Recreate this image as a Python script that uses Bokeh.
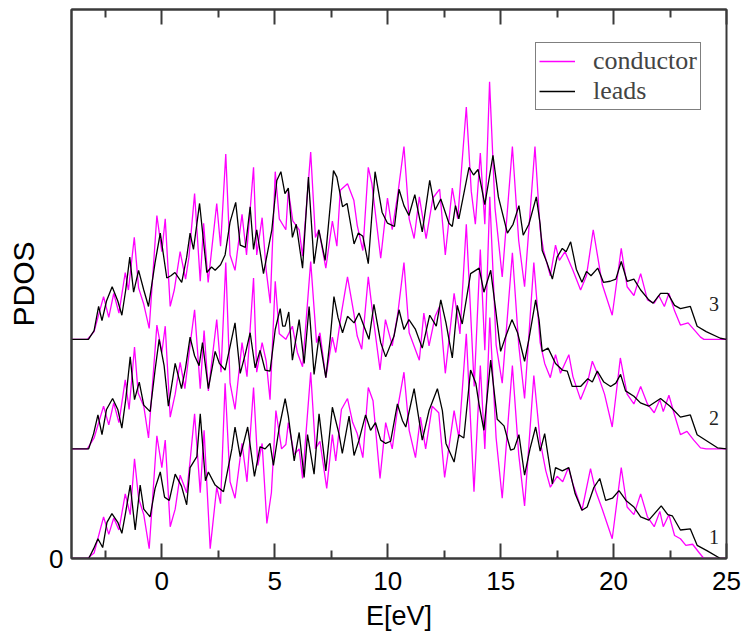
from bokeh.plotting import figure
from bokeh.models import Range1d, FixedTicker, Legend, LegendItem, Label, LinearAxis, CustomJSTickFormatter
from bokeh.embed import file_html
from bokeh.resources import INLINE

# ---------------- data (PDOS values) ----------------
# curve 1 (bottom)
cond1_x = [-4, -3.3, -3.0, -2.58, -2.35, -2.13, -1.9, -1.62, -1.4, -1.21, -1.03, -0.8, -0.56, -0.22, 0.0, 0.15, 0.37, 0.59, 0.81, 1.1, 1.25, 1.45, 1.7, 1.87, 2.14, 2.43, 2.6, 2.8, 3.02, 3.24, 3.55, 3.77, 4.06, 4.25, 4.44, 4.65, 4.85, 5.05, 5.3, 5.49, 5.6, 5.86, 6.08, 6.23, 6.59, 6.8, 7.0, 7.3, 7.55, 7.7, 7.95, 8.22, 8.45, 8.65, 8.9, 9.14, 9.35, 9.66, 9.91, 10.2, 10.43, 10.72, 10.95, 11.23, 11.45, 11.68, 11.97, 12.26, 12.52, 12.94, 13.15, 13.48, 13.82, 14.1, 14.3, 14.52, 14.8, 15.07, 15.52, 15.8, 16.06, 16.47, 16.75, 17.0, 17.2, 17.5, 17.75, 18.0, 18.2, 18.6, 18.98, 19.2, 19.5, 19.94, 20.34, 20.6, 20.9, 21.2, 21.5, 21.8, 22.05, 22.2, 22.45, 22.7, 22.96, 23.2, 23.5, 23.8, 24.0, 25.0]
cond1_y = [0, 0, 0.05, 0.38, 0.22, 0.37, 0.26, 0.59, 0.40, 0.91, 0.55, 0.40, 0.09, 1.12, 0.83, 1.08, 0.29, 0.45, 0.76, 0.60, 0.89, 1.32, 0.60, 1.17, 0.09, 0.65, 0.50, 1.60, 0.70, 0.55, 1.05, 0.70, 1.56, 0.85, 1.05, 0.32, 0.60, 1.35, 1.00, 1.04, 1.24, 0.95, 1.00, 0.73, 1.70, 1.00, 1.07, 0.64, 1.13, 0.89, 1.36, 1.46, 1.24, 1.14, 0.92, 1.56, 1.44, 0.73, 1.24, 1.00, 1.36, 1.70, 1.17, 0.92, 1.29, 1.00, 1.39, 1.33, 0.74, 1.35, 1.10, 2.05, 0.61, 1.76, 1.00, 2.20, 1.10, 0.55, 1.76, 0.95, 0.48, 1.67, 1.07, 0.80, 0.65, 0.75, 0.70, 0.83, 0.68, 0.44, 0.82, 0.62, 0.45, 0.18, 0.83, 0.47, 0.40, 0.59, 0.38, 0.29, 0.43, 0.29, 0.40, 0.21, 0.18, 0.12, 0.13, 0.05, 0.0, 0.0]
lead1_x = [-4, -3.24, -3.02, -2.83, -2.62, -2.43, -2.21, -1.95, -1.77, -1.62, -1.4, -1.18, -0.96, -0.8, -0.52, -0.3, -0.07, 0.12, 0.33, 0.59, 0.87, 1.1, 1.25, 1.55, 1.7, 1.93, 2.06, 2.36, 2.73, 3.1, 3.24, 3.47, 3.8, 4.1, 4.35, 4.57, 4.79, 4.94, 5.2, 5.46, 5.6, 5.86, 6.08, 6.3, 6.45, 6.74, 6.96, 7.26, 7.55, 7.84, 7.99, 8.29, 8.51, 8.73, 9.02, 9.24, 9.46, 9.69, 9.91, 10.13, 10.43, 10.65, 10.8, 11.17, 11.39, 11.53, 11.83, 12.2, 12.42, 12.58, 12.94, 13.15, 13.37, 13.67, 13.9, 14.05, 14.26, 14.56, 14.85, 15.15, 15.44, 15.6, 15.81, 16.06, 16.3, 16.55, 16.75, 16.95, 17.29, 17.43, 17.73, 18.02, 18.3, 18.6, 18.83, 19.13, 19.39, 19.65, 19.95, 20.24, 20.55, 20.9, 21.2, 21.56, 22.11, 22.4, 22.6, 22.96, 23.4, 23.7, 24.15, 24.73, 25.0]
lead1_y = [0, 0, 0.09, 0.18, 0.10, 0.33, 0.41, 0.33, 0.23, 0.40, 0.67, 0.26, 0.67, 0.45, 0.38, 0.64, 0.79, 0.56, 0.53, 0.77, 0.66, 0.49, 0.83, 0.93, 1.32, 0.71, 0.79, 0.67, 0.61, 1.00, 1.20, 0.93, 1.20, 0.75, 1.02, 1.00, 1.05, 0.85, 1.20, 1.46, 1.30, 0.89, 1.15, 0.74, 1.13, 0.77, 1.32, 0.80, 1.38, 1.14, 0.96, 1.30, 0.94, 1.08, 1.31, 1.17, 1.24, 1.08, 1.05, 1.07, 1.41, 1.26, 1.20, 1.55, 1.26, 1.08, 1.35, 1.55, 1.35, 1.05, 0.88, 1.13, 1.10, 1.72, 1.60, 1.40, 1.17, 1.81, 1.27, 1.21, 0.99, 1.00, 1.13, 0.76, 1.00, 1.20, 0.98, 1.14, 0.68, 0.83, 0.80, 0.83, 0.59, 0.44, 0.47, 0.65, 0.73, 0.53, 0.55, 0.62, 0.53, 0.47, 0.38, 0.35, 0.48, 0.40, 0.39, 0.26, 0.27, 0.12, 0.07, 0.0, 0.0]

# curve 2 (middle)
cond2_x = [-4, -3.3, -3.0, -2.58, -2.35, -2.13, -1.9, -1.62, -1.45, -1.21, -1.05, -0.8, -0.59, -0.22, 0.0, 0.15, 0.37, 0.59, 0.81, 1.02, 1.25, 1.45, 1.7, 1.87, 2.06, 2.43, 2.62, 2.83, 3.02, 3.24, 3.55, 3.77, 4.06, 4.2, 4.44, 4.62, 4.79, 5.02, 5.2, 5.49, 5.78, 6.0, 6.23, 6.59, 6.85, 7.0, 7.26, 7.55, 7.7, 7.95, 8.22, 8.5, 8.65, 8.85, 9.14, 9.35, 9.66, 9.9, 10.2, 10.45, 10.72, 10.95, 11.4, 11.6, 11.83, 12.1, 12.3, 12.55, 12.94, 13.2, 13.48, 13.83, 14.1, 14.3, 14.52, 14.8, 15.07, 15.52, 15.8, 16.06, 16.47, 16.75, 16.95, 17.2, 17.43, 17.65, 18.02, 18.2, 18.54, 18.85, 19.06, 19.3, 19.6, 19.94, 20.3, 20.6, 20.9, 21.2, 21.5, 21.8, 22.05, 22.2, 22.45, 22.7, 22.96, 23.25, 23.55, 23.85, 24.1, 25.0]
cond2_y = [0, 0, 0.10, 0.39, 0.22, 0.42, 0.24, 0.63, 0.36, 0.93, 0.51, 0.39, 0.10, 1.13, 0.88, 1.12, 0.29, 0.50, 0.79, 0.55, 0.95, 1.27, 0.55, 1.08, 0.53, 1.18, 0.70, 1.70, 0.60, 0.36, 0.97, 0.66, 1.56, 0.70, 0.97, 0.80, 0.45, 1.53, 1.05, 1.00, 1.12, 0.88, 0.75, 1.71, 0.97, 1.06, 0.65, 1.02, 0.88, 1.24, 1.57, 1.24, 1.03, 0.91, 1.57, 1.21, 0.72, 1.18, 0.94, 1.24, 1.70, 1.06, 0.81, 1.24, 0.94, 1.21, 1.30, 0.69, 1.42, 1.05, 2.05, 0.57, 1.82, 0.90, 2.30, 0.95, 0.60, 1.79, 0.95, 0.46, 1.70, 0.97, 0.78, 0.65, 0.86, 0.69, 0.86, 0.66, 0.45, 0.61, 0.80, 0.68, 0.50, 0.20, 0.83, 0.50, 0.41, 0.57, 0.41, 0.33, 0.45, 0.34, 0.49, 0.31, 0.13, 0.16, 0.08, 0.01, 0.0, 0.0]
lead2_x = [-4, -3.24, -3.02, -2.83, -2.65, -2.45, -2.18, -1.95, -1.77, -1.6, -1.4, -1.21, -1.0, -0.8, -0.52, -0.3, -0.12, 0.1, 0.29, 0.59, 0.87, 1.05, 1.25, 1.45, 1.65, 1.8, 2.06, 2.36, 2.55, 2.8, 3.24, 3.47, 3.7, 3.91, 4.13, 4.35, 4.57, 4.79, 5.02, 5.24, 5.35, 5.46, 5.62, 5.78, 6.08, 6.3, 6.52, 6.74, 6.96, 7.26, 7.45, 7.62, 7.8, 8.0, 8.22, 8.51, 8.73, 8.95, 9.17, 9.39, 9.69, 9.91, 10.28, 10.5, 10.72, 10.94, 11.23, 11.53, 11.86, 12.15, 12.35, 12.58, 12.86, 13.08, 13.3, 13.67, 14.05, 14.26, 14.56, 14.78, 15.0, 15.18, 15.5, 15.75, 16.06, 16.25, 16.55, 16.7, 16.84, 17.1, 17.43, 17.73, 17.95, 18.17, 18.54, 18.86, 19.06, 19.28, 19.57, 19.87, 20.1, 20.31, 20.53, 20.9, 21.19, 21.56, 22.08, 22.5, 22.96, 23.4, 23.7, 24.15, 24.6, 25.0]
lead2_y = [0, 0, 0.14, 0.31, 0.13, 0.36, 0.46, 0.36, 0.19, 0.45, 0.84, 0.45, 0.61, 0.40, 0.34, 0.72, 1.00, 0.76, 0.39, 0.78, 0.55, 0.74, 1.02, 0.85, 0.76, 0.97, 0.55, 0.89, 0.78, 0.72, 1.15, 0.69, 0.87, 1.06, 0.74, 0.90, 0.72, 0.71, 1.09, 1.28, 1.12, 1.12, 1.25, 0.81, 1.18, 0.78, 1.30, 0.68, 1.03, 0.65, 1.00, 1.39, 1.20, 1.06, 1.21, 1.15, 1.24, 1.12, 1.00, 1.32, 0.97, 0.84, 1.03, 1.27, 1.09, 1.18, 1.09, 0.92, 1.22, 1.12, 1.36, 1.15, 0.83, 1.31, 1.14, 1.60, 1.65, 1.43, 1.63, 1.27, 0.89, 1.00, 1.18, 1.06, 0.80, 1.00, 1.36, 1.18, 0.89, 0.92, 0.78, 0.72, 0.71, 0.57, 0.57, 0.64, 0.61, 0.71, 0.61, 0.57, 0.60, 0.68, 0.53, 0.48, 0.42, 0.39, 0.46, 0.39, 0.29, 0.31, 0.13, 0.07, 0.01, 0.0]

# curve 3 (top)
cond3_x = [-4, -3.3, -3.0, -2.58, -2.35, -2.13, -1.9, -1.62, -1.48, -1.22, -1.03, -0.8, -0.56, -0.22, 0.0, 0.15, 0.37, 0.55, 0.81, 1.05, 1.2, 1.45, 1.7, 1.85, 2.05, 2.43, 2.6, 2.83, 3.02, 3.24, 3.55, 3.75, 4.06, 4.2, 4.44, 4.62, 4.8, 5.02, 5.2, 5.49, 5.6, 5.8, 6.08, 6.23, 6.59, 6.8, 6.95, 7.26, 7.55, 7.75, 7.9, 8.22, 8.5, 8.65, 8.9, 9.14, 9.3, 9.69, 9.99, 10.2, 10.45, 10.72, 10.95, 11.17, 11.4, 11.7, 12.0, 12.3, 12.55, 12.86, 13.1, 13.48, 13.7, 13.88, 14.1, 14.3, 14.51, 14.75, 15.07, 15.52, 15.8, 16.06, 16.52, 16.75, 16.9, 17.2, 17.43, 17.6, 17.85, 18.2, 18.54, 18.8, 19.1, 19.3, 19.5, 19.94, 20.34, 20.6, 20.9, 21.2, 21.5, 21.8, 22.0, 22.25, 22.45, 22.7, 22.96, 23.3, 23.6, 23.85, 24.0, 25.0]
cond3_y = [0, 0, 0.07, 0.39, 0.20, 0.42, 0.24, 0.61, 0.45, 0.93, 0.47, 0.32, 0.10, 1.13, 0.80, 1.10, 0.30, 0.45, 0.80, 0.55, 0.75, 1.33, 0.53, 1.06, 0.52, 1.24, 0.85, 1.69, 0.77, 0.63, 1.14, 0.77, 1.57, 0.77, 1.11, 0.63, 0.33, 1.53, 1.10, 1.00, 1.36, 1.08, 1.00, 0.76, 1.71, 0.93, 1.00, 0.65, 1.08, 0.85, 1.36, 1.42, 1.27, 1.04, 0.81, 1.57, 1.42, 0.74, 1.29, 1.00, 1.33, 1.76, 1.10, 0.92, 1.30, 0.92, 1.29, 1.37, 0.77, 1.38, 1.10, 2.12, 1.35, 1.05, 1.70, 1.05, 2.35, 1.20, 0.57, 1.76, 0.90, 0.48, 1.76, 1.00, 0.81, 0.58, 0.86, 0.72, 0.80, 0.63, 0.45, 0.58, 1.00, 0.75, 0.50, 0.22, 0.83, 0.48, 0.40, 0.60, 0.36, 0.33, 0.40, 0.30, 0.42, 0.26, 0.13, 0.15, 0.08, 0.02, 0.0, 0.0]
lead3_x = [-4, -3.25, -3.0, -2.8, -2.65, -2.45, -2.2, -1.95, -1.77, -1.6, -1.42, -1.25, -1.03, -0.8, -0.59, -0.3, -0.07, 0.22, 0.4, 0.58, 0.88, 1.1, 1.25, 1.4, 1.67, 1.99, 2.2, 2.36, 2.6, 2.8, 3.02, 3.27, 3.47, 3.7, 3.91, 4.06, 4.2, 4.5, 4.87, 5.09, 5.27, 5.45, 5.6, 5.78, 5.95, 6.23, 6.49, 6.74, 6.95, 7.23, 7.6, 7.75, 8.0, 8.2, 8.51, 8.7, 8.9, 9.14, 9.44, 9.75, 9.99, 10.3, 10.5, 10.72, 10.94, 11.2, 11.53, 11.86, 12.1, 12.35, 12.71, 12.86, 13.0, 13.15, 13.6, 13.8, 14.0, 14.3, 14.66, 14.9, 15.3, 15.55, 15.81, 16.0, 16.25, 16.58, 16.75, 16.84, 17.05, 17.29, 17.5, 17.73, 17.9, 18.1, 18.35, 18.6, 18.8, 19.0, 19.3, 19.55, 19.85, 20.1, 20.34, 20.6, 20.9, 21.2, 21.56, 21.75, 22.08, 22.4, 22.7, 22.96, 23.4, 23.7, 24.1, 24.73, 25.0]
lead3_y = [0, 0, 0.08, 0.30, 0.17, 0.35, 0.48, 0.35, 0.22, 0.45, 0.75, 0.43, 0.63, 0.45, 0.30, 0.70, 0.97, 0.56, 0.58, 0.61, 0.52, 0.75, 0.97, 0.82, 1.24, 0.61, 0.66, 0.63, 0.68, 0.77, 1.07, 1.25, 0.86, 0.84, 1.21, 0.82, 1.00, 0.60, 1.00, 1.45, 1.53, 1.33, 1.38, 0.93, 1.05, 0.65, 1.48, 0.69, 1.00, 0.72, 1.54, 1.48, 1.21, 1.24, 0.87, 0.97, 0.94, 0.69, 1.53, 1.16, 1.06, 1.03, 1.37, 1.22, 1.13, 1.32, 0.98, 1.45, 1.18, 1.28, 1.06, 1.03, 1.22, 1.10, 1.57, 1.50, 1.55, 1.23, 1.68, 1.30, 0.97, 1.05, 1.22, 0.95, 1.05, 1.30, 1.05, 0.81, 0.70, 0.55, 0.75, 0.83, 0.80, 0.89, 0.64, 0.52, 0.62, 0.58, 0.65, 0.52, 0.53, 0.55, 0.71, 0.53, 0.55, 0.45, 0.36, 0.33, 0.42, 0.42, 0.31, 0.28, 0.30, 0.12, 0.07, 0.01, 0.0]

curve_labels = ["1", "2", "3"]
curve_offsets = [0.0, 1.0, 2.0]
x_ticks = [0, 5, 10, 15, 20, 25]
x_minor = [-2.5, 2.5, 7.5, 12.5, 17.5, 22.5]

MAGENTA = "#ff00ff"
AXIS_C = "#3a3a3a"

p = figure(width=749, height=634, x_range=Range1d(-4, 25), y_range=Range1d(0, 5.01),
           output_backend="svg", toolbar_location=None,
           min_border_left=71, min_border_right=23, min_border_top=9, min_border_bottom=76)
p.xgrid.visible = False
p.ygrid.visible = False
p.outline_line_color = AXIS_C
p.outline_line_width = 2
p.background_fill_color = "white"
p.border_fill_color = "white"

conds = [(cond1_x, cond1_y), (cond2_x, cond2_y), (cond3_x, cond3_y)]
leads = [(lead1_x, lead1_y), (lead2_x, lead2_y), (lead3_x, lead3_y)]

cond_rs = []
lead_rs = []
for (cx, cy), off in zip(conds, curve_offsets):
    r = p.line(cx, [v + off for v in cy], line_color=MAGENTA, line_width=1.3)
    cond_rs.append(r)
for (lx, ly), off in zip(leads, curve_offsets):
    r = p.line(lx, [v + off for v in ly], line_color="black", line_width=1.3)
    lead_rs.append(r)

# axes
xa = p.xaxis[0]
xa.ticker = FixedTicker(ticks=x_ticks, minor_ticks=x_minor)
xa.axis_label = "E[eV]"
for ax in p.axis:
    ax.axis_line_color = AXIS_C
    ax.axis_line_width = 2
    ax.major_tick_line_color = AXIS_C
    ax.minor_tick_line_color = AXIS_C
    ax.major_tick_line_width = 2
    ax.minor_tick_line_width = 2
    ax.major_label_text_font = "Liberation Sans"
    ax.axis_label_text_font = "Liberation Sans"
    ax.axis_label_text_font_style = "normal"
    ax.major_label_text_color = "black"
    ax.axis_label_text_color = "black"
xa.major_tick_in = 15
xa.major_tick_out = 0
xa.minor_tick_in = 8
xa.minor_tick_out = 0
xa.major_label_text_font_size = "26px"
xa.major_label_standoff = 13
xa.axis_label_text_font_size = "27px"
xa.axis_label_standoff = 8

ya = p.yaxis[0]
ya.ticker = FixedTicker(ticks=[0])
ya.major_tick_in = 0
ya.major_tick_out = 0
ya.minor_tick_in = 0
ya.minor_tick_out = 0
ya.axis_label = "PDOS"
ya.major_label_text_font_size = "26px"
ya.major_label_standoff = 8
ya.axis_label_text_font_size = "30px"
ya.axis_label_standoff = 6

top = LinearAxis(ticker=FixedTicker(ticks=x_ticks, minor_ticks=x_minor),
                 formatter=CustomJSTickFormatter(code="return ''"),
                 major_tick_in=15, major_tick_out=0,
                 minor_tick_in=8, minor_tick_out=0, axis_line_color=AXIS_C, axis_line_width=2,
                 major_tick_line_color=AXIS_C, minor_tick_line_color=AXIS_C,
                 major_tick_line_width=2, minor_tick_line_width=2, major_label_standoff=0)
p.add_layout(top, "above")

# curve number labels
label_pos_y = [0.20, 1.28, 2.32]
for txt, yy in zip(curve_labels, label_pos_y):
    p.add_layout(Label(x=24.45, y=yy, text=txt, text_font="Liberation Serif",
                       text_font_size="20px", text_align="center", text_baseline="middle",
                       text_color="#222222"))

legend = Legend(items=[LegendItem(label="conductor", renderers=[cond_rs[0]]),
                       LegendItem(label="leads", renderers=[lead_rs[0]])],
                location=(464, 448), border_line_color="black", border_line_width=1.5,
                background_fill_color="white", background_fill_alpha=1.0,
                label_text_font="Liberation Serif", label_text_font_size="26px",
                glyph_width=36, glyph_height=20, label_height=20, label_standoff=18,
                padding=3, spacing=0, margin=0)
p.add_layout(legend)

open("out.html", "w").write(file_html(p, INLINE))
